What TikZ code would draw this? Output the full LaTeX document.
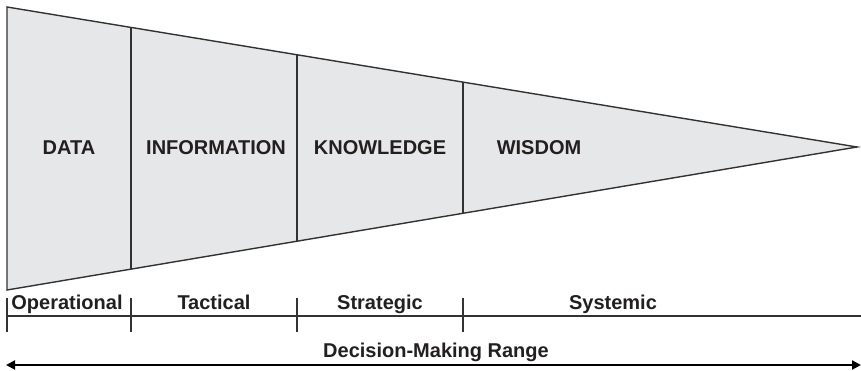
\documentclass[tikz,border=0pt]{standalone}
\usepackage{fontspec}
\setmainfont{Liberation Sans}
\usetikzlibrary{arrows.meta,calc}
\definecolor{fillgray}{RGB}{230,231,232}
\definecolor{linegray}{RGB}{50,50,50}
\definecolor{txt}{RGB}{35,31,32}
\begin{document}
\begin{tikzpicture}[x=1pt,y=-1pt,
  edge/.style={draw=linegray,line width=1.4pt},
  lbl/.style={font=\fontsize{20}{22}\selectfont\bfseries,text=txt,inner sep=0pt,anchor=base},
  tick/.style={draw=linegray,line width=1.2pt}]
\useasboundingbox (0,0) rectangle (861,371);
% triangle corners
\coordinate (tl) at (7,7);
\coordinate (bl) at (7,290);
\coordinate (ap) at (857,147);
\path[fill=fillgray,edge,line join=miter] (tl) -- (ap) -- (bl) -- cycle;
% dividers
\foreach \n/\x in {d1/131,d2/297,d3/463}{
  \coordinate (\n t) at ($(tl)!{(\x-7)/850}!(ap)$);
  \coordinate (\n b) at ($(bl)!{(\x-7)/850}!(ap)$);
  \draw[edge,line width=1.2pt] (\n t) -- (\n b);
}
% labels in triangle
\node[lbl] (data) at (69,155) {DATA};
\node[lbl] (info) at (216,155) {INFORMATION};
\node[lbl] (know) at (380,155) {KNOWLEDGE};
\node[lbl] (wis) at (539,155) {WISDOM};
% scale
\coordinate (s0) at (7,316);
\coordinate (s4) at (861,316);
\draw[tick] (s0) -- (s4);
\foreach \n/\x in {t0/7,t1/131,t2/297,t3/463}{
  \coordinate (\n a) at (\x,298);
  \coordinate (\n b) at (\x,332);
  \draw[tick] (\n a) -- (\n b);
}
\node[lbl] (op) at (67,309) {Operational};
\node[lbl] (tac) at (214,309) {Tactical};
\node[lbl] (str) at (380,309) {Strategic};
\node[lbl] (sys) at (613,309) {Systemic};
% decision range arrow
\coordinate (al) at (6,365);
\coordinate (ar) at (861,365);
\draw[line width=2pt,draw=black,{Triangle[length=9pt,width=9pt]}-{Triangle[length=9pt,width=9pt]}] (al) -- (ar);
\node[lbl] (dmr) at (436,357) {Decision-Making Range};
\end{tikzpicture}
\end{document}
